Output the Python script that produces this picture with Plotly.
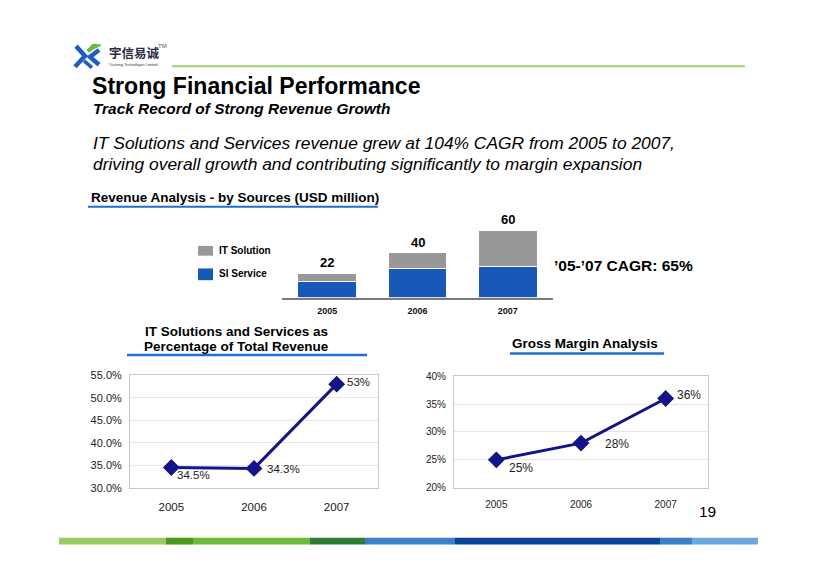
import plotly.graph_objects as go

W, H = 816, 577
FONT = "Liberation Sans, Arial, sans-serif"

# ---------------- data ----------------
years = ["2005", "2006", "2007"]
si_service = [14.4, 26.3, 28.2]      # USD million
it_solution = [7.6, 13.7, 31.8]      # USD million
it_share_pct = [34.5, 34.3, 53.0]    # % of total revenue
gross_margin_pct = [25, 28, 36]      # %
left_yticks = [30, 35, 40, 45, 50, 55]
right_yticks = [20, 25, 30, 35, 40]

NAVY = "#13138a"
GREY_BAR = "#989898"
BLUE_BAR = "#1859b8"


def px(x):
    return x / W


def py(y):
    return 1 - y / H


fig = go.Figure()

# stacked revenue bars
fig.add_trace(go.Bar(x=years, y=si_service, name="SI Service", marker=dict(color=BLUE_BAR, line=dict(color="white", width=1)),
                     xaxis="x", yaxis="y", showlegend=False, hoverinfo="skip"))
fig.add_trace(go.Bar(x=years, y=it_solution, name="IT Solution", marker=dict(color=GREY_BAR, line=dict(color="white", width=1)),
                     xaxis="x", yaxis="y", showlegend=False, hoverinfo="skip"))

# line charts
fig.add_trace(go.Scatter(x=years, y=it_share_pct, mode="lines+markers", line=dict(color=NAVY, width=3),
                         marker=dict(symbol="diamond", size=13, color=NAVY), xaxis="x2", yaxis="y2",
                         showlegend=False, hoverinfo="skip"))
fig.add_trace(go.Scatter(x=years, y=gross_margin_pct, mode="lines+markers", line=dict(color=NAVY, width=3),
                         marker=dict(symbol="diamond", size=13, color=NAVY), xaxis="x3", yaxis="y3",
                         showlegend=False, hoverinfo="skip"))

annotations = []


def ann(text, x, y, size, color="#000000", xanchor="left", yanchor="middle", family=FONT, **kw):
    annotations.append(dict(text=text, x=px(x), y=py(y), xref="paper", yref="paper", xanchor=xanchor,
                            yanchor=yanchor, showarrow=False, font=dict(size=size, color=color, family=family), **kw))


# header
ann("<b>宇信易诚</b>", 107, 47, 12.5, "#2b2b45", family="Noto Sans CJK SC")
ann("TM", 156, 41, 6, "#555555")
ann("Yucheng Technologies Limited", 107, 60, 3.6, "#333333")
ann("<b>Strong Financial Performance</b>", 90, 82, 23.1)
ann("<b><i>Track Record of Strong Revenue Growth</i></b>", 91, 104.5, 15.4)
ann("<i>IT Solutions and Services revenue grew at 104% CAGR from 2005 to 2007,</i>", 91, 140, 17.4)
ann("<i>driving overall growth and contributing significantly to margin expansion</i>", 91, 161.5, 17.4)
ann("<b>Revenue Analysis - by Sources (USD million)</b>", 89, 196, 13.5)
ann("<b>IT Solution</b>", 217, 250, 10)
ann("<b>SI Service</b>", 217, 273, 10)
ann("<b>’05-’07 CAGR: 65%</b>", 552, 265, 15.5)
ann("<b>IT Solutions and Services as</b>", 236, 332, 13.5, xanchor="center")
ann("<b>Percentage of Total Revenue</b>", 236, 347.5, 13.5, xanchor="center")
ann("<b>Gross Margin Analysis</b>", 585, 345, 13.5, xanchor="center")
ann("19", 707, 516, 15.5, xanchor="center")

# bar totals (category index positions)
for i, (a, b) in enumerate(zip(si_service, it_solution)):
    annotations.append(dict(text=f"<b>{round(a + b)}</b>", x=i, y=a + b, xref="x", yref="y", yanchor="bottom",
                            yshift=1, showarrow=False, font=dict(size=13, family=FONT, color="#000")))

# data labels for line charts
left_offsets = [(22, -8), (29, -1), (22, 2)]
for i, (v, (dx, dy)) in enumerate(zip(it_share_pct, left_offsets)):
    annotations.append(dict(text=f"{v:g}%", x=i, y=v, xref="x2", yref="y2", xshift=dx, yshift=dy,
                            showarrow=False, font=dict(size=11.5, family=FONT, color="#222")))
right_offsets = [(25, -8), (36, -1), (23, 3)]
for i, (v, (dx, dy)) in enumerate(zip(gross_margin_pct, right_offsets)):
    annotations.append(dict(text=f"{v:g}%", x=i, y=v, xref="x3", yref="y3", xshift=dx, yshift=dy,
                            showarrow=False, font=dict(size=12, family=FONT, color="#222")))

shapes = []


def line(x0, y0, x1, y1, color, width):
    shapes.append(dict(type="line", xref="paper", yref="paper", x0=px(x0), y0=py(y0), x1=px(x1), y1=py(y1),
                       line=dict(color=color, width=width)))


def rect(x0, y0, x1, y1, color):
    shapes.append(dict(type="rect", xref="paper", yref="paper", x0=px(x0), y0=py(y0), x1=px(x1), y1=py(y1),
                       fillcolor=color, line=dict(width=0)))


def path(d_pts, color, fill=None, width=0, closed=False):
    d = "M " + " L ".join(f"{px(x)},{py(y)}" for x, y in d_pts) + (" Z" if closed else "")
    shapes.append(dict(type="path", xref="paper", yref="paper", path=d,
                       fillcolor=fill if fill else "rgba(0,0,0,0)",
                       line=dict(color=color, width=width)))


# logo (simplified)
path([(76, 41), (85, 51), (75, 62)], "#1d5fbf", width=4.5)
path([(99, 45), (90, 52), (99, 60)], "#1d5fbf", width=4.5)
path([(84, 56), (92, 63)], "#1d5fbf", width=3.5)
path([(87, 45), (93, 39), (101, 40), (95, 43), (89, 47)], "#5cb531", fill="#6cbf3c", width=1, closed=True)
line(172, 61.5, 745, 61.5, "#9fd46e", 2)

# underlines
line(88, 205, 378, 205, "#1f6fd0", 2.2)
line(127, 356.5, 367, 356.5, "#1f6fd0", 2.5)
line(510, 355, 664, 355, "#1f6fd0", 2.5)

# legend squares
rect(198, 245, 213, 255, GREY_BAR)
rect(198, 268, 213, 280, BLUE_BAR)

# bottom stripe
stripe = [(59, 166, "#9acb64"), (166, 193, "#4c9a1c"), (193, 310, "#6cbb3b"), (310, 365, "#2f7d32"),
          (365, 455, "#3b80c9"), (455, 660, "#0b419b"), (660, 692, "#3b80c9"), (692, 758, "#6aa9de")]
for x0, x1, c in stripe:
    rect(x0, 543, x1, 550, c)

common_box = dict(showline=True, mirror=True, linecolor="#c8c8c8", linewidth=1)

fig.update_layout(
    width=W, height=H, margin=dict(l=0, r=0, t=0, b=0),
    paper_bgcolor="white", plot_bgcolor="white",
    barmode="stack", bargap=0.35,
    font=dict(family=FONT, color="#222"),
    annotations=annotations, shapes=shapes,
    xaxis=dict(domain=[px(282), px(553)], type="category", range=[-0.5, 2.5], showline=True,
               linecolor="#7a7a7a", linewidth=2, ticks="outside", ticklen=3, tickcolor="rgba(0,0,0,0)",
               tickvals=years, ticktext=[f"<b>{y}</b>" for y in years], tickfont=dict(size=9, color="#111"),
               showgrid=False, zeroline=False, fixedrange=True),
    yaxis=dict(domain=[py(298), py(217.5)], range=[0, 70], showticklabels=False, showgrid=False,
               zeroline=False, showline=False, fixedrange=True),
    xaxis2=dict(domain=[px(130), px(378)], type="category", range=[-0.5, 2.5], ticks="outside", ticklen=8,
                tickcolor="rgba(0,0,0,0)", tickfont=dict(size=11.5, color="#222"), showgrid=False,
                zeroline=False, anchor="y2", **common_box),
    yaxis2=dict(domain=[py(492), py(377)], range=[30, 55], tickmode="array", tickvals=left_yticks,
                ticktext=[f"{v:.1f}%" for v in left_yticks], ticks="outside", ticklen=5,
                tickcolor="rgba(0,0,0,0)",
                tickfont=dict(size=11, color="#222"), showgrid=True, gridcolor="#e6e6e6", zeroline=False,
                anchor="x2", **common_box),
    xaxis3=dict(domain=[px(454), px(708)], type="category", range=[-0.5, 2.5], ticks="outside", ticklen=7,
                tickcolor="rgba(0,0,0,0)", tickfont=dict(size=10, color="#222"), showgrid=False,
                zeroline=False, anchor="y3", **common_box),
    yaxis3=dict(domain=[py(492), py(378)], range=[20, 40], tickmode="array", tickvals=right_yticks,
                ticktext=[f"{v:.0f}%" for v in right_yticks], ticks="outside", ticklen=5,
                tickcolor="rgba(0,0,0,0)",
                tickfont=dict(size=10, color="#222"), showgrid=True, gridcolor="#e6e6e6", zeroline=False,
                anchor="x3", **common_box),
)

fig.write_html("out.html", config={"displayModeBar": False},
               post_script="document.body.style.margin='0';document.body.style.padding='0';")
